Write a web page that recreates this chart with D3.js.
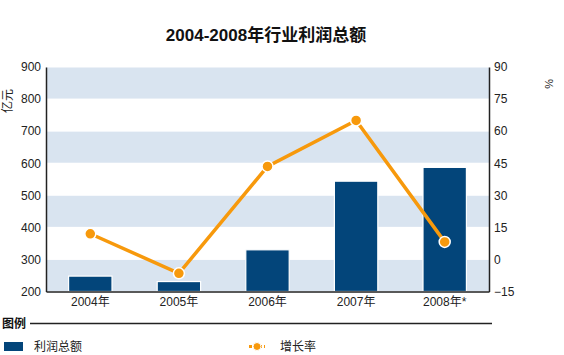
<!DOCTYPE html>
<html><head><meta charset="utf-8">
<script src="https://cdn.jsdelivr.net/npm/d3@7/dist/d3.min.js"></script>
<style>body{margin:0;background:#fff;}svg{display:block;font-family:"Liberation Sans",Arial,"Noto Sans CJK SC",sans-serif;}</style>
</head><body>
<script>
const categories = ["2004年","2005年","2006年","2007年","2008年*"];
const profit = [248, 231, 330, 544, 587];
const growth = [12, -6.5, 43.5, 65, 8.2];
const leftTicks = [200,300,400,500,600,700,800,900];
const rightTicks = [-15,0,15,30,45,60,75,90];
const seriesNames = ["利润总额","增长率"];
const title = "2004-2008年行业利润总额";

const W=564,H=355;
const m={l:46,r:489,t:67,b:291.5};
const svg=d3.select("body").append("svg").attr("width",W).attr("height",H);

const x=d3.scaleBand().domain(categories).range([m.l,m.r]).paddingInner(0.51).paddingOuter(0.255);
const y=d3.scaleLinear().domain([200,900]).range([m.b,m.t]);
const y2=d3.scaleLinear().domain([-15,90]).range([m.b,m.t]);

// bands
for(let i=0;i<leftTicks.length-1;i++){
  if(i%2===0){
    svg.append("rect").attr("x",m.l).attr("width",m.r-m.l)
      .attr("y",y(leftTicks[i+1])+0.5).attr("height",y(leftTicks[i])-y(leftTicks[i+1])-1)
      .attr("fill","#d9e4f0");
  }
}
// title
svg.append("text").attr("x",266).attr("y",41).attr("text-anchor","middle")
  .attr("font-size",17).attr("font-weight","bold").attr("fill","#111").text(title);

// bars
svg.selectAll(".bar").data(profit).join("rect")
  .attr("x",(d,i)=>x(categories[i])).attr("width",x.bandwidth())
  .attr("y",d=>y(d)).attr("height",d=>m.b-y(d))
  .attr("fill","#03457a").attr("stroke","#fff").attr("stroke-width",1.2);

// axes
const gl=svg.append("g").attr("transform",`translate(${m.l},0)`).call(d3.axisLeft(y).tickValues(leftTicks).tickSize(0).tickPadding(5));
const gr=svg.append("g").attr("transform",`translate(${m.r},0)`).call(d3.axisRight(y2).tickValues(rightTicks).tickSize(0).tickPadding(5));
const gb=svg.append("g").attr("transform",`translate(0,${m.b})`).call(d3.axisBottom(x).tickSize(0).tickPadding(4));
[gl,gr,gb].forEach(g=>{
  g.select(".domain").attr("stroke","#222").attr("stroke-width",1.5);
  g.selectAll("text").attr("font-size",12).attr("fill","#222").attr("font-family",'"Liberation Sans",Arial,"Noto Sans CJK SC",sans-serif');
});
gb.selectAll("text").attr("dy","0.9em");

// line
const line=d3.line().x((d,i)=>x(categories[i])+x.bandwidth()/2).y(d=>y2(d));
svg.append("path").datum(growth).attr("d",line).attr("fill","none").attr("stroke","#f7990c").attr("stroke-width",3.5);
svg.selectAll(".pt").data(growth).join("circle")
  .attr("cx",(d,i)=>x(categories[i])+x.bandwidth()/2).attr("cy",d=>y2(d)).attr("r",5.5)
  .attr("fill","#f7990c").attr("stroke","#fff").attr("stroke-width",1.5);

// axis titles
svg.append("text").attr("transform","translate(12,101) rotate(-90)").attr("text-anchor","middle")
  .attr("font-size",12).attr("fill","#222").text("亿元");
svg.append("text").attr("transform","translate(545,84) rotate(90)").attr("text-anchor","middle")
  .attr("font-size",11).attr("fill","#222").text("%");

// legend
svg.append("text").attr("x",2).attr("y",328).attr("font-size",12).attr("font-weight","bold").attr("fill","#111").text("图例");
svg.append("line").attr("x1",30).attr("x2",492).attr("y1",323.5).attr("y2",323.5).attr("stroke","#222").attr("stroke-width",1.5);
svg.append("rect").attr("x",4).attr("y",342).attr("width",19).attr("height",9).attr("fill","#03457a");
svg.append("text").attr("x",34).attr("y",351).attr("font-size",12).attr("fill","#222").text(seriesNames[0]);
svg.append("line").attr("x1",249).attr("x2",265).attr("y1",346.5).attr("y2",346.5).attr("stroke","#f7990c").attr("stroke-width",3).attr("stroke-dasharray","3,2");
svg.append("circle").attr("cx",257).attr("cy",346.5).attr("r",4).attr("fill","#f7990c").attr("stroke","#fff").attr("stroke-width",1);
svg.append("text").attr("x",280).attr("y",351).attr("font-size",12).attr("fill","#222").text(seriesNames[1]);
</script>
</body></html>
